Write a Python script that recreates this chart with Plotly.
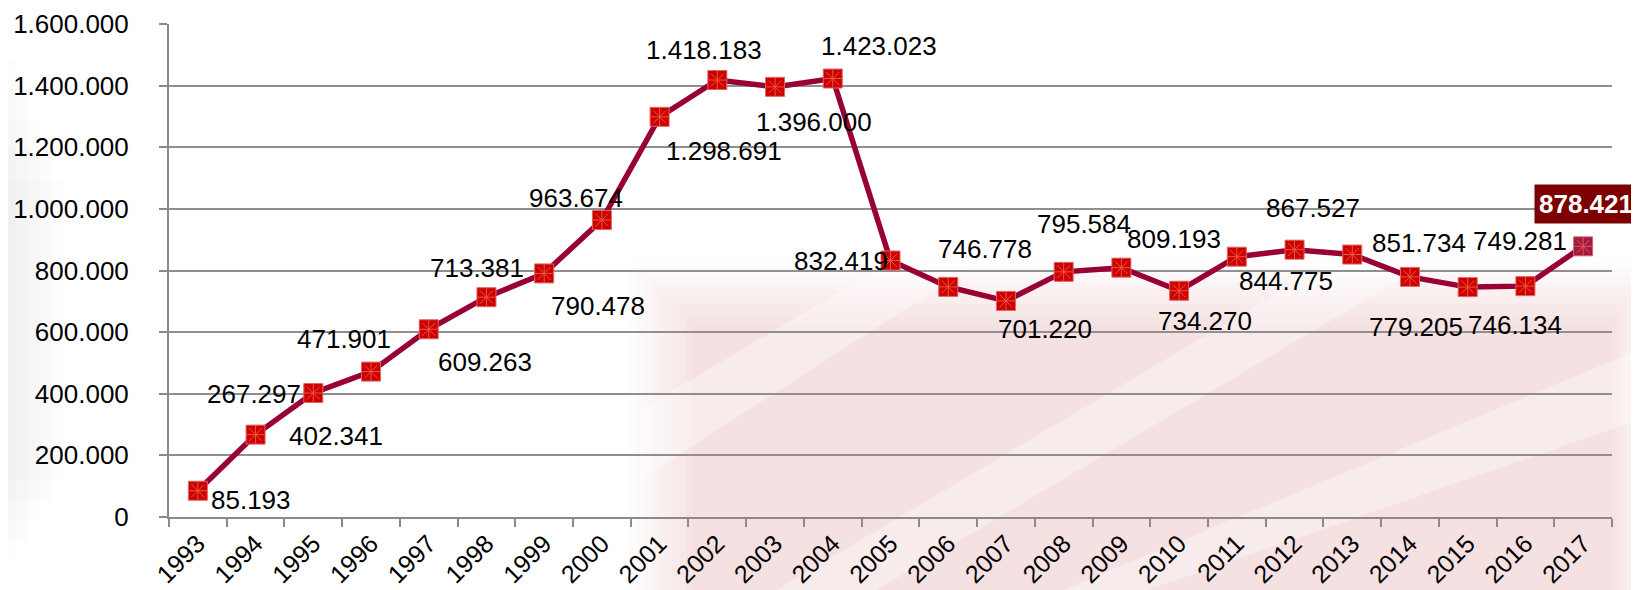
import plotly.graph_objects as go

# ---- data ----
years = [str(y) for y in range(1993, 2018)]
values = [85193, 267297, 402341, 471901, 609263, 713381, 790478, 963674,
          1298691, 1418183, 1396000, 1423023, 832419, 746778, 701220,
          795584, 809193, 734270, 844775, 867527, 851734, 779205, 746134,
          749281, 878421]
y_tick_values = [0, 200000, 400000, 600000, 800000, 1000000, 1200000, 1400000, 1600000]

# ---- style: label offsets in px (dx right, dy down) ----
label_offsets = [(53, 9), (-2, -41), (23, 43), (-27, -33), (56, 33), (-9, -29),
                 (54, 33), (-26, -22), (64, 34), (-13, -30), (39, 35), (46, -33),
                 (-50, 0), (37, -38), (39, 28), (20, -48), (53, -29), (26, 30),
                 (49, 24), (18, -42), (67, -12), (6, 50), (47, 38), (-5, -45),
                 (3, -42)]


def fmt(v):
    return f"{v:,}".replace(",", ".")


OFF = 8  # page body margin
PAGE_W, PAGE_H = 1639, 590
W, H = PAGE_W - OFF, PAGE_H - OFF
# plot area in page pixels
PL, PR, PT, PB = 169, 1612, 24.3, 517.3
L, R, T, B = PL - OFF, PR - OFF, PT - OFF, PB - OFF


def px(x):
    return (x - PL) / (PR - PL)


def py(y):
    return (PB - y) / (PB - PT)


marker_fill = ["#cc0000"] * (len(values) - 1) + ["#9b1b45"]

fig = go.Figure()
fig.add_trace(go.Scatter(
    x=years, y=values, mode="lines+markers",
    line=dict(color="#990033", width=5.5),
    marker=dict(symbol="square", size=19, color=marker_fill,
                line=dict(color="#e06666", width=1)),
    hoverinfo="x+y", showlegend=False,
))
fig.add_trace(go.Scatter(
    x=years, y=values, mode="markers",
    marker=dict(symbol="asterisk-open", size=15,
                line=dict(color="#e98585", width=1)),
    hoverinfo="skip", showlegend=False,
))

annotations = []
for i, v in enumerate(values):
    dx, dy = label_offsets[i]
    last = i == len(values) - 1
    ann = dict(
        x=i, y=v, xref="x", yref="y",
        text=("<b>" + fmt(v) + "</b>") if last else fmt(v),
        showarrow=False,
        xanchor="center", yanchor="middle", xshift=dx, yshift=-dy,
        font=dict(family="Liberation Sans, Arial, sans-serif", size=26,
                  color="white" if last else "black"),
    )
    if last:
        ann["bgcolor"] = "#7d0000"
        ann["borderpad"] = 4
    annotations.append(ann)

# faint, soft background watermark (pink diagonal pattern)
shapes = []
for k in range(10):
    g = k * 7
    shapes.append(dict(type="rect", xref="paper", yref="paper",
                       x0=px(630 + g), x1=px(1645 - g / 2), y0=py(600),
                       y1=py(262 + g),
                       fillcolor="rgba(240,160,172,0.035)", line=dict(width=0),
                       layer="below"))
stripes = [
    [(760, 600), (860, 600), (1420, 268), (1320, 268)],
    [(1040, 600), (1120, 600), (1639, 420), (1639, 350)],
    [(640, 480), (640, 410), (880, 268), (970, 268)],
]
for pts in stripes:
    path = "M " + " L ".join(f"{px(x):.4f},{py(y):.4f}" for x, y in pts) + " Z"
    shapes.append(dict(type="path", xref="paper", yref="paper", path=path,
                       fillcolor="rgba(255,255,255,0.35)", line=dict(width=0),
                       layer="below"))
for k in range(5):
    shapes.append(dict(type="rect", xref="paper", yref="paper",
                       x0=px(0), x1=px(15 + 12 * k), y0=py(560 - 20 * k),
                       y1=py(60 + 30 * k),
                       fillcolor="rgba(190,190,190,0.04)", line=dict(width=0),
                       layer="below"))

fig.update_layout(
    width=W, height=H,
    margin=dict(l=L, r=W - R, t=T, b=H - B, pad=0),
    paper_bgcolor="white", plot_bgcolor="rgba(0,0,0,0)",
    separators=",.",
    font=dict(family="Liberation Sans, Arial, sans-serif", color="black"),
    annotations=annotations, shapes=shapes,
    xaxis=dict(type="category", categoryorder="array", categoryarray=years,
               tickangle=-45, tickson="boundaries", ticks="outside", ticklen=8,
               tickcolor="#8a8a8a", tickwidth=2, automargin=False,
               showline=True, linecolor="#8a8a8a", linewidth=2,
               showgrid=False, tickfont=dict(size=25, color="black"),
               range=[-0.5, len(years) - 0.5]),
    yaxis=dict(range=[0, 1600000], tickvals=y_tick_values,
               tickformat=",d", ticks="outside", ticklen=8,
               tickcolor="#8a8a8a", tickwidth=2, automargin=False,
               showline=True, linecolor="#8a8a8a", linewidth=2,
               showgrid=True, gridcolor="#8f8f8f", gridwidth=1.5,
               zeroline=False, tickfont=dict(size=26, color="black"),
               ticklabelstandoff=25),
)

fig.write_html("out.html")
